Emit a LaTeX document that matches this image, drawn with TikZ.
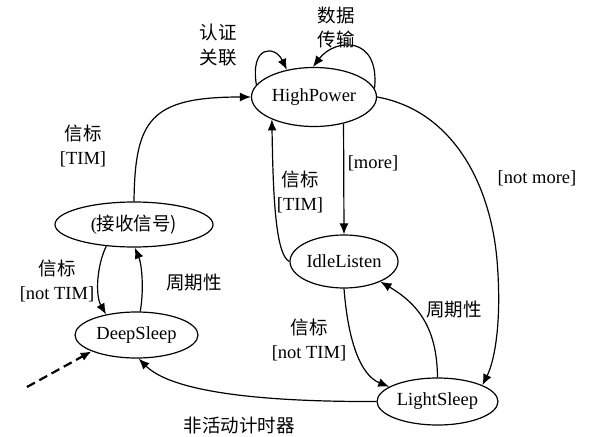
\documentclass[tikz,border=0pt]{standalone}
\usepackage{fontspec}
\setmainfont{Liberation Serif}
\newfontfamily\cjk{Noto Sans CJK SC}
\usepackage{tikz}
\usetikzlibrary{shapes.geometric,arrows.meta}

\begin{document}
\begin{tikzpicture}[x=1pt, y=-1pt,
    state/.style={ellipse, draw, line width=1.2pt, inner sep=0pt, font=\fontsize{18.5}{24}\selectfont},
    lbl/.style={align=center, inner sep=0pt, font=\fontsize{18.5}{24.5}\selectfont},
    trans/.style={line width=1.2pt, -{Latex[length=11pt,width=9pt]}}]
\useasboundingbox (0,0) rectangle (591,436);

% States (ellipses)
\node[state, minimum width=125pt, minimum height=59pt] (hp) at (314,97)    {HighPower};
\node[state, minimum width=158pt, minimum height=45pt] (rx) at (134,224.5) {(\cjk 接收信号)};
\node[state, minimum width=123pt, minimum height=46pt] (ds) at (136.5,335) {DeepSleep};
\node[state, minimum width=108pt, minimum height=53pt] (il) at (344,261.5) {IdleListen};
\node[state, minimum width=121pt, minimum height=47pt] (ls) at (437.5,401.5) {LightSleep};
\coordinate (init) at (27,387);

% Self loops on HighPower
\draw[trans] (hp.168) .. controls (250,45) and (275,45) .. (hp.135);
\draw[trans] (hp.8) .. controls (380,35) and (335,38) .. (hp.92);
\node[lbl] (l1) at (218,45)   {\cjk 认证\\\cjk 关联};
\node[lbl] (l2) at (336,27.5) {\cjk 数据\\\cjk 传输};

% Left part
\draw[trans] (rx.north) .. controls (135,120) and (150,97) .. (hp.west);
\node[lbl] (l3) at (83,146) {\cjk 信标\\{[TIM]}};
\draw[trans] (rx.218) .. controls (97,265) and (95,295) .. (ds.146);
\node[lbl] (l4) at (57,281) {\cjk 信标\\{[not TIM]}};
\draw[trans] (ds.81) .. controls (144,290) and (142,265) .. (rx.-88);
\node[lbl] (l5) at (194,283) {\cjk 周期性};
\draw[line width=2.2pt, dash pattern=on 9pt off 5pt, -{Latex[length=11pt,width=9pt]}] (init) -- (ds.200);

% Right part
\draw[trans] (hp.-42) -- (il.north);
\node[lbl] (l6) at (373,163) {[more]};
\draw[trans] (il.west) .. controls (275,255) and (273,190) .. (hp.208);
\node[lbl] (l7) at (300,192) {\cjk 信标\\{[TIM]}};
\draw[trans] (il.south) .. controls (348,340) and (360,375) .. (ls.163);
\node[lbl] (l8) at (309,340) {\cjk 信标\\{[not TIM]}};
\draw[trans] (ls.north) .. controls (437,330) and (420,305) .. (il.-29);
\node[lbl] (l9) at (454,310) {\cjk 周期性};
\draw[trans] (hp.east) .. controls (450,110) and (490,180) .. (497,260)
    .. controls (502,320) and (495,360) .. (ls.20);
\node[lbl] (l10) at (537,178) {[not more]};

% Back to DeepSleep
\draw[trans] (ls.west) .. controls (250,402) and (170,390) .. (ds.-85);
\node[lbl] (l11) at (239,425) {\cjk 非活动计时器};
\end{tikzpicture}
\end{document}
